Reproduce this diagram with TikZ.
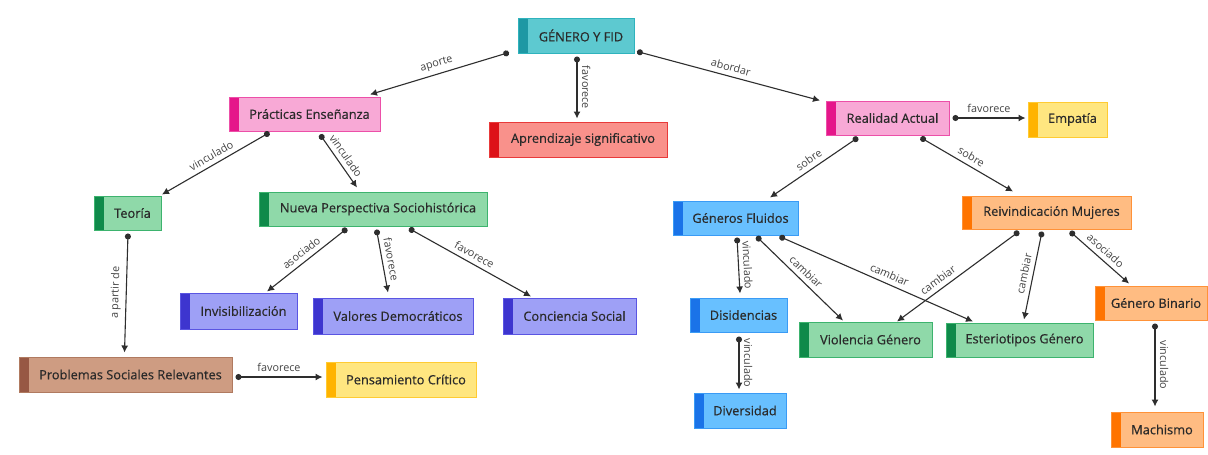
\documentclass[tikz,border=0pt]{standalone}
\usepackage{fontspec}
\setmainfont{Open Sans}
\newfontfamily\boxfont[FakeBold=0.5]{Open Sans}
\usetikzlibrary{arrows.meta}
\definecolor{txt}{HTML}{2A2A2A}
\definecolor{lnk}{HTML}{2E2E2E}
\definecolor{lbltxt}{HTML}{444444}
\definecolor{tealF}{HTML}{5DC9D0}\definecolor{tealD}{HTML}{2FB3BD}\definecolor{tealB}{HTML}{1E98A4}
\definecolor{pinkF}{HTML}{F8A9D6}\definecolor{pinkD}{HTML}{EC4FA8}\definecolor{pinkB}{HTML}{E5168A}
\definecolor{redF}{HTML}{F9918B}\definecolor{redD}{HTML}{E83A3A}\definecolor{redB}{HTML}{DD1218}
\definecolor{yelF}{HTML}{FFE680}\definecolor{yelD}{HTML}{FFCB33}\definecolor{yelB}{HTML}{FFB300}
\definecolor{grnF}{HTML}{8FD9A9}\definecolor{grnD}{HTML}{3DB36E}\definecolor{grnB}{HTML}{0F8A4A}
\definecolor{bluF}{HTML}{68C0FF}\definecolor{bluD}{HTML}{3A9BF5}\definecolor{bluB}{HTML}{1A73E8}
\definecolor{ornF}{HTML}{FFBC82}\definecolor{ornD}{HTML}{FF9238}\definecolor{ornB}{HTML}{FF7400}
\definecolor{purF}{HTML}{9EA0F6}\definecolor{purD}{HTML}{5A55E2}\definecolor{purB}{HTML}{3D35CF}
\definecolor{brnF}{HTML}{CE9C82}\definecolor{brnD}{HTML}{B07A60}\definecolor{brnB}{HTML}{975844}
\tikzset{
  box/.style n args={3}{draw=#2, fill=#1, line width=1pt, inner sep=0pt, text=txt,
    font=\boxfont\fontsize{12.8}{14}\selectfont,
    path picture={\fill[#3] (path picture bounding box.south west) rectangle ([xshift=10pt]path picture bounding box.north west);}},
  tealbox/.style={box={tealF}{tealD}{tealB}},
  pinkbox/.style={box={pinkF}{pinkD}{pinkB}},
  redbox/.style={box={redF}{redD}{redB}},
  yelbox/.style={box={yelF}{yelD}{yelB}},
  grnbox/.style={box={grnF}{grnD}{grnB}},
  blubox/.style={box={bluF}{bluD}{bluB}},
  ornbox/.style={box={ornF}{ornD}{ornB}},
  purbox/.style={box={purF}{purD}{purB}},
  brnbox/.style={box={brnF}{brnD}{brnB}},
  conn/.style={draw=lnk, line width=1.1pt, {Circle[length=6pt]}-{Latex[length=7pt,width=7pt]}},
  lbl/.style={font=\fontsize{10.8}{12}\selectfont, text=lbltxt, sloped, above=3pt, inner sep=1.5pt},
}
\begin{document}
\begin{tikzpicture}[x=1pt,y=-1pt]
\useasboundingbox[fill=white] (0,0) rectangle (1208,455);
% nodes
\node[tealbox, minimum width=116pt, minimum height=35pt] (G) at (576,35.5) {\hspace*{10pt}GÉNERO Y FID};
\node[pinkbox, minimum width=151pt, minimum height=34pt] (P) at (304.5,114) {\hspace*{10pt}Prácticas Enseñanza};
\node[redbox, minimum width=178pt, minimum height=35pt] (A) at (578,139.5) {\hspace*{10pt}Aprendizaje significativo};
\node[pinkbox, minimum width=123pt, minimum height=34pt] (R) at (887.5,118) {\hspace*{10pt}Realidad Actual};
\node[yelbox, minimum width=79pt, minimum height=35pt] (E) at (1067.5,119.5) {\hspace*{10pt}Empatía};
\node[grnbox, minimum width=67pt, minimum height=34pt] (T) at (127.5,213) {\hspace*{10pt}Teoría};
\node[grnbox, minimum width=228pt, minimum height=34pt] (N) at (373,209) {\hspace*{10pt}Nueva Perspectiva Sociohistórica};
\node[blubox, minimum width=125pt, minimum height=34pt] (GF) at (735.5,218) {\hspace*{10pt}Géneros Fluidos};
\node[ornbox, minimum width=169pt, minimum height=33pt] (RM) at (1046.5,212.5) {\hspace*{10pt}Reivindicación Mujeres};
\node[purbox, minimum width=117pt, minimum height=36pt] (I) at (238.5,311) {\hspace*{10pt}Invisibilización};
\node[purbox, minimum width=160pt, minimum height=36pt] (V) at (393,316) {\hspace*{10pt}Valores Democráticos};
\node[purbox, minimum width=133pt, minimum height=36pt] (C) at (569.5,316) {\hspace*{10pt}Conciencia Social};
\node[blubox, minimum width=97pt, minimum height=34pt] (D) at (738.5,315) {\hspace*{10pt}Disidencias};
\node[grnbox, minimum width=133pt, minimum height=35pt] (VG) at (865.5,339.5) {\hspace*{10pt}Violencia Género};
\node[grnbox, minimum width=147pt, minimum height=34pt] (EG) at (1019.5,340) {\hspace*{10pt}Esteriotipos Género};
\node[ornbox, minimum width=112pt, minimum height=34pt] (GB) at (1151,303) {\hspace*{10pt}Género Binario};
\node[brnbox, minimum width=213pt, minimum height=35pt] (PS) at (125.5,374.5) {\hspace*{10pt}Problemas Sociales Relevantes};
\node[yelbox, minimum width=150pt, minimum height=35pt] (PC) at (401,379.5) {\hspace*{10pt}Pensamiento Crítico};
\node[blubox, minimum width=92pt, minimum height=35pt] (Di) at (740,410.5) {\hspace*{10pt}Diversidad};
\node[ornbox, minimum width=92pt, minimum height=35pt] (M) at (1157,429.5) {\hspace*{10pt}Machismo};
% connectors
\draw[conn] ([shift={(-67,-1)}]G.south) -- node[lbl] {aporte} ([shift={(65.5,-2)}]P.north);
\draw[conn] ([shift={(1,3)}]G.south) -- node[lbl] {favorece} ([shift={(-1,-3)}]A.north);
\draw[conn] ([shift={(61,-2)}]G.south) -- node[lbl] {abordar} ([shift={(-67.5,0)}]R.north);
\draw[conn] ([shift={(-35,1)}]P.south) -- node[lbl] {vinculado} ([shift={(34.5,-1)}]T.north);
\draw[conn] ([shift={(15.5,3)}]P.south) -- node[lbl] {vinculado} ([shift={(-16,-4)}]N.north);
\draw[conn] ([shift={(0.5,3)}]T.south) -- node[lbl] {a partir de} ([shift={(-1,-4)}]PS.north);
\draw[conn] ([shift={(3,2.5)}]PS.east) -- node[lbl] {favorece} ([shift={(-3,-2.5)}]PC.west);
\draw[conn] ([shift={(-26,2)}]N.south) -- node[lbl] {asociado} ([shift={(28.5,-1)}]I.north);
\draw[conn] ([shift={(3.5,3)}]N.south) -- node[lbl] {favorece} ([shift={(-5,-5)}]V.north);
\draw[conn] ([shift={(36,2)}]N.south) -- node[lbl] {favorece} ([shift={(-38.5,-1)}]C.north);
\draw[conn] ([shift={(3,0)}]R.east) -- node[lbl] {favorece} ([shift={(-2,-1.5)}]E.west);
\draw[conn] ([shift={(-29.5,2)}]R.south) -- node[lbl] {sobre} ([shift={(34.5,-3)}]GF.north);
\draw[conn] ([shift={(33,2)}]R.south) -- node[lbl] {sobre} ([shift={(-33.5,-4)}]RM.north);
\draw[conn] ([shift={(1.5,2)}]GF.south) -- node[lbl] {vinculado} ([shift={(1.5,-4)}]D.north);
\draw[conn] ([shift={(21,1)}]GF.south) -- node[lbl] {cambiar} ([shift={(-22.5,-1)}]VG.north);
\draw[conn] ([shift={(44,1)}]GF.south) -- node[lbl, pos=0.55] {cambiar} ([shift={(-46.5,-1)}]EG.north);
\draw[conn] ([shift={(-27.5,2)}]RM.south) -- node[lbl, pos=0.62] {cambiar} ([shift={(31.5,0)}]VG.north);
\draw[conn] ([shift={(-4.5,2)}]RM.south) -- node[lbl] {cambiar} ([shift={(4.5,-3)}]EG.north);
\draw[conn] ([shift={(23.5,2)}]RM.south) -- node[lbl] {asociado} ([shift={(-22,-2)}]GB.north);
\draw[conn] ([shift={(0.5,4)}]D.south) -- node[lbl] {vinculado} ([shift={(-1,-3)}]Di.north);
\draw[conn] ([shift={(4,3)}]GB.south) -- node[lbl] {vinculado} ([shift={(-2,-5)}]M.north);
\end{tikzpicture}
\end{document}
